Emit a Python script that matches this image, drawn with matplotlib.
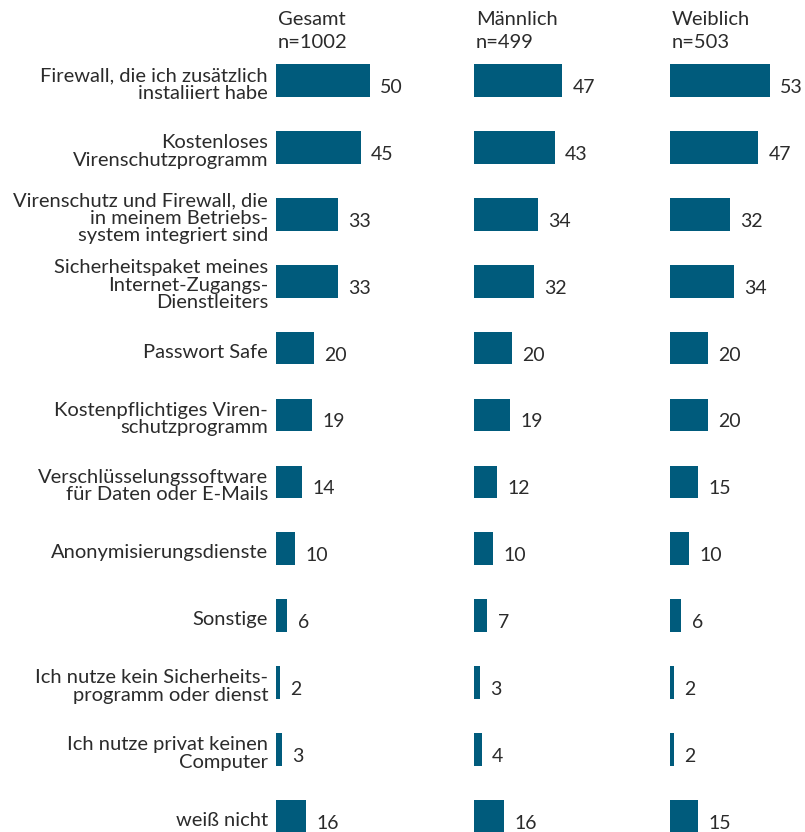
import matplotlib.pyplot as plt
import matplotlib.transforms as mtransforms

plt.rcParams['font.family'] = ['Lato', 'DejaVu Sans']

# categories (top to bottom) and percentages per group
categories = [
    "Firewall, die ich zusätzlich\ninstaliiert habe",
    "Kostenloses\nVirenschutzprogramm",
    "Virenschutz und Firewall, die\nin meinem Betriebs-\nsystem integriert sind",
    "Sicherheitspaket meines\nInternet-Zugangs-\nDienstleiters",
    "Passwort Safe",
    "Kostenpflichtiges Viren-\nschutzprogramm",
    "Verschlüsselungssoftware\nfür Daten oder E-Mails",
    "Anonymisierungsdienste",
    "Sonstige",
    "Ich nutze kein Sicherheits-\nprogramm oder dienst",
    "Ich nutze privat keinen\nComputer",
    "weiß nicht",
]
gesamt = [50, 45, 33, 33, 20, 19, 14, 10, 6, 2, 3, 16]
maennlich = [47, 43, 34, 32, 20, 19, 12, 10, 7, 3, 4, 16]
weiblich = [53, 47, 32, 34, 20, 20, 15, 10, 6, 2, 2, 15]

groups = ["Gesamt\nn=1002", "Männlich\nn=499", "Weiblich\nn=503"]
series = [gesamt, maennlich, weiblich]

W, H = 805, 832
bar_color = '#005b7c'
text_color = '#2b2b2b'
px_per_unit = 1.88
pitch = 66.9
panel_left = [276, 474, 670]
panel_right = [474, 670, 805]

fig = plt.figure(figsize=(W / 100, H / 100), dpi=100)

top_px = 80.5 - pitch / 2
height_px = pitch * len(categories)
axes = []
for i, vals in enumerate(series):
    left = panel_left[i]
    width = panel_right[i] - left
    ax = fig.add_axes([left / W, (H - top_px - height_px) / H, width / W, height_px / H])
    ax.set_xlim(0, width / px_per_unit)
    ax.set_ylim(len(categories) - 0.5, -0.5)
    ax.axis('off')
    rows = list(range(len(vals)))
    ax.barh(rows, vals, height=0.49, color=bar_color, edgecolor='none')
    for r, v in zip(rows, vals):
        ax.annotate(str(v), xy=(v, r), xytext=(7.5, -5), textcoords='offset points',
                    ha='left', va='center', fontsize=14, color=text_color)
    # group header with sample size
    fig.text(left / W + 2 / W, 1 - 11 / H, groups[i], ha='left', va='top',
             fontsize=14.5, color=text_color, linespacing=1.4)
    axes.append(ax)

# category labels to the left of the first panel
ax0 = axes[0]
shift = mtransforms.offset_copy(ax0.transData, fig=fig, x=-8, y=-4, units='dots')
for r, cat in enumerate(categories):
    ax0.text(0, r, cat, transform=shift, ha='right', va='center', fontsize=14.5,
             color=text_color, linespacing=1.05, multialignment='right')

fig.savefig('out.png', dpi=100, facecolor='white')
